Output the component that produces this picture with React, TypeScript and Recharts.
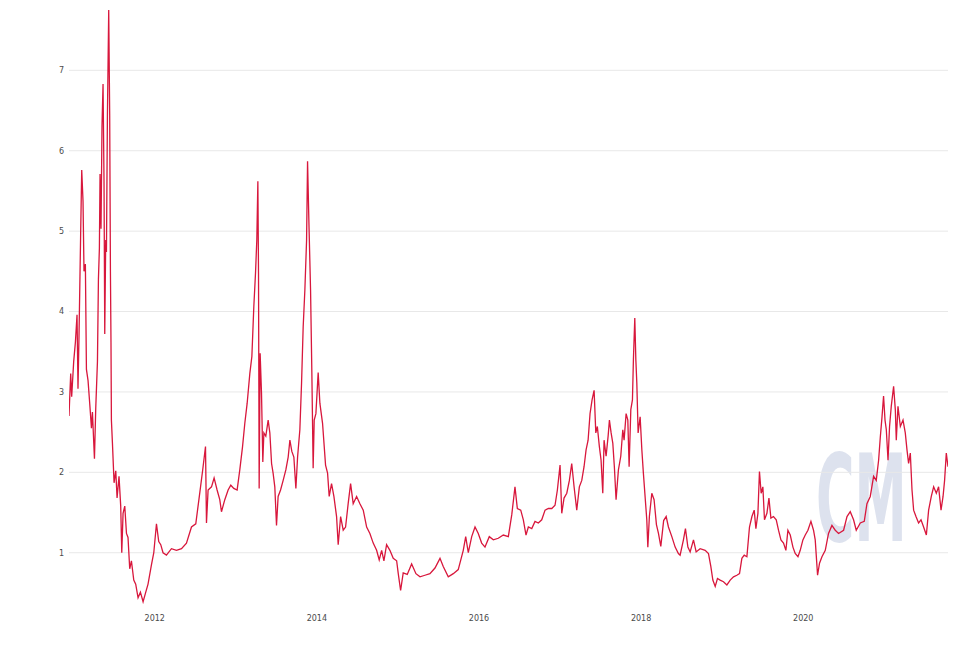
import { LineChart, Line, XAxis, YAxis, CartesianGrid } from "recharts";

// [decimal year, MVRV ratio]
const span2011: [number, number][] = [
  [2010.942, 2.7], [2010.963, 3.23], [2010.975, 2.94], [2011.0, 3.38], [2011.021, 3.62],
  [2011.041, 3.96], [2011.053, 3.04], [2011.065, 3.67], [2011.086, 4.98], [2011.099, 5.76],
  [2011.115, 5.37], [2011.127, 4.5], [2011.144, 4.59], [2011.157, 3.28], [2011.177, 3.14],
  [2011.198, 2.85], [2011.219, 2.55], [2011.231, 2.75], [2011.256, 2.17], [2011.272, 2.8],
  [2011.293, 3.38], [2011.305, 4.4], [2011.317, 4.79], [2011.325, 5.71], [2011.337, 5.03],
  [2011.349, 6.3], [2011.362, 6.83], [2011.374, 5.62], [2011.383, 3.72], [2011.395, 4.89],
  [2011.404, 4.74], [2011.416, 6.44], [2011.432, 7.75], [2011.444, 6.44], [2011.453, 4.5],
  [2011.46, 3.62], [2011.465, 2.65], [2011.478, 2.36], [2011.498, 1.87], [2011.519, 2.02],
  [2011.535, 1.68], [2011.559, 1.95], [2011.58, 1.58], [2011.593, 1.0], [2011.609, 1.49],
  [2011.63, 1.58], [2011.651, 1.24], [2011.67, 1.19], [2011.691, 0.8], [2011.712, 0.9],
  [2011.741, 0.66], [2011.765, 0.61], [2011.794, 0.44], [2011.823, 0.51], [2011.856, 0.39],
  [2011.889, 0.51], [2011.917, 0.61], [2011.959, 0.85], [2011.988, 1.0],
];

const span2012: [number, number][] = [
  [2012.021, 1.36], [2012.049, 1.14], [2012.074, 1.1], [2012.102, 1.0], [2012.144, 0.97],
  [2012.206, 1.05], [2012.268, 1.03], [2012.33, 1.05], [2012.391, 1.12], [2012.453, 1.32],
  [2012.506, 1.36], [2012.547, 1.68], [2012.589, 2.01], [2012.626, 2.32], [2012.638, 1.37],
  [2012.658, 1.78], [2012.7, 1.82], [2012.732, 1.93], [2012.769, 1.78], [2012.802, 1.66],
  [2012.823, 1.51], [2012.864, 1.66], [2012.905, 1.78], [2012.938, 1.84], [2012.975, 1.8],
];

const span2013: [number, number][] = [
  [2013.016, 1.78], [2013.049, 2.03], [2013.083, 2.32], [2013.111, 2.61], [2013.14, 2.86],
  [2013.173, 3.23], [2013.198, 3.44], [2013.222, 4.06], [2013.243, 4.48], [2013.259, 4.89],
  [2013.272, 5.62], [2013.28, 4.48], [2013.288, 1.8], [2013.3, 3.48], [2013.317, 2.98],
  [2013.333, 2.13], [2013.346, 2.49], [2013.37, 2.45], [2013.399, 2.65], [2013.42, 2.49],
  [2013.441, 2.11], [2013.46, 1.99], [2013.481, 1.82], [2013.502, 1.34], [2013.522, 1.7],
  [2013.552, 1.78], [2013.584, 1.9], [2013.617, 2.03], [2013.646, 2.19], [2013.667, 2.4],
  [2013.691, 2.26], [2013.716, 2.19], [2013.741, 1.8], [2013.762, 2.19], [2013.79, 2.53],
  [2013.811, 3.11], [2013.831, 3.81], [2013.852, 4.27], [2013.873, 4.89], [2013.885, 5.87],
  [2013.901, 5.14], [2013.922, 4.27], [2013.938, 3.24], [2013.954, 2.05], [2013.967, 2.65],
  [2013.988, 2.73],
];

const span2014: [number, number][] = [
  [2014.016, 3.24], [2014.037, 2.86], [2014.07, 2.61], [2014.107, 2.09], [2014.132, 1.99],
  [2014.152, 1.7], [2014.181, 1.86], [2014.21, 1.7], [2014.243, 1.45], [2014.263, 1.1],
  [2014.293, 1.45], [2014.325, 1.28], [2014.354, 1.32], [2014.386, 1.61], [2014.416, 1.86],
  [2014.448, 1.61], [2014.49, 1.7], [2014.531, 1.61], [2014.572, 1.53], [2014.614, 1.32],
  [2014.654, 1.24], [2014.695, 1.12], [2014.737, 1.03], [2014.769, 0.91], [2014.799, 1.03],
  [2014.827, 0.9], [2014.86, 1.1], [2014.901, 1.03], [2014.942, 0.93], [2014.984, 0.9],
];

const span2015: [number, number][] = [
  [2015.004, 0.74], [2015.033, 0.53], [2015.065, 0.75], [2015.115, 0.73], [2015.169, 0.86],
  [2015.222, 0.74], [2015.272, 0.7], [2015.333, 0.72], [2015.395, 0.74], [2015.457, 0.81],
  [2015.519, 0.93], [2015.559, 0.83], [2015.621, 0.7], [2015.683, 0.74], [2015.744, 0.79],
  [2015.806, 1.03], [2015.836, 1.2], [2015.868, 1.0], [2015.91, 1.2], [2015.951, 1.32],
  [2015.991, 1.24],
];

const span2016: [number, number][] = [
  [2016.033, 1.12], [2016.074, 1.07], [2016.127, 1.2], [2016.177, 1.16], [2016.238, 1.18],
  [2016.3, 1.22], [2016.362, 1.2], [2016.404, 1.47], [2016.444, 1.82], [2016.473, 1.55],
  [2016.515, 1.53], [2016.547, 1.41], [2016.58, 1.22], [2016.609, 1.32], [2016.651, 1.3],
  [2016.691, 1.39], [2016.732, 1.37], [2016.774, 1.41], [2016.815, 1.53], [2016.856, 1.55],
  [2016.898, 1.55], [2016.938, 1.59], [2016.967, 1.78],
];

const span2017: [number, number][] = [
  [2017.0, 2.09], [2017.021, 1.49], [2017.049, 1.68], [2017.083, 1.74], [2017.115, 1.9],
  [2017.144, 2.11], [2017.173, 1.82], [2017.206, 1.53], [2017.238, 1.82], [2017.268, 1.9],
  [2017.296, 2.07], [2017.321, 2.28], [2017.346, 2.4], [2017.37, 2.73], [2017.395, 2.9],
  [2017.42, 3.02], [2017.441, 2.49], [2017.46, 2.57], [2017.485, 2.32], [2017.506, 2.15],
  [2017.527, 1.74], [2017.543, 2.4], [2017.568, 2.2], [2017.593, 2.45], [2017.609, 2.65],
  [2017.63, 2.49], [2017.651, 2.36], [2017.67, 2.07], [2017.691, 1.66], [2017.72, 2.03],
  [2017.749, 2.2], [2017.774, 2.53], [2017.79, 2.4], [2017.815, 2.73], [2017.836, 2.65],
  [2017.852, 2.07], [2017.873, 2.78], [2017.893, 2.9], [2017.905, 3.4], [2017.922, 3.92],
  [2017.935, 3.4], [2017.947, 3.11], [2017.963, 2.49], [2017.988, 2.69],
];

const span2018: [number, number][] = [
  [2018.009, 2.28], [2018.028, 1.99], [2018.049, 1.7], [2018.07, 1.41], [2018.083, 1.07],
  [2018.102, 1.45], [2018.132, 1.74], [2018.16, 1.66], [2018.189, 1.35], [2018.214, 1.24],
  [2018.243, 1.08], [2018.278, 1.4], [2018.309, 1.45], [2018.337, 1.32], [2018.379, 1.2],
  [2018.42, 1.07], [2018.46, 0.99], [2018.481, 0.97], [2018.522, 1.16], [2018.547, 1.3],
  [2018.577, 1.07], [2018.605, 1.01], [2018.646, 1.16], [2018.679, 1.01], [2018.728, 1.05],
  [2018.79, 1.03], [2018.831, 0.99], [2018.86, 0.83], [2018.885, 0.66], [2018.914, 0.58],
  [2018.942, 0.68], [2018.975, 0.66],
];

const span2019: [number, number][] = [
  [2019.016, 0.64], [2019.058, 0.6], [2019.099, 0.66], [2019.14, 0.7], [2019.181, 0.72],
  [2019.214, 0.74], [2019.243, 0.93], [2019.272, 0.97], [2019.305, 0.95], [2019.337, 1.32],
  [2019.367, 1.45], [2019.395, 1.53], [2019.416, 1.3], [2019.441, 1.49], [2019.46, 2.01],
  [2019.481, 1.74], [2019.502, 1.82], [2019.522, 1.41], [2019.552, 1.49], [2019.577, 1.68],
  [2019.601, 1.43], [2019.633, 1.45], [2019.667, 1.41], [2019.695, 1.28], [2019.725, 1.16],
  [2019.757, 1.12], [2019.786, 1.03], [2019.811, 1.28], [2019.84, 1.22], [2019.873, 1.07],
  [2019.901, 0.99], [2019.935, 0.95], [2019.963, 1.03], [2019.996, 1.16],
];

const span2020: [number, number][] = [
  [2020.025, 1.22], [2020.058, 1.28], [2020.095, 1.39], [2020.127, 1.28], [2020.148, 1.16],
  [2020.177, 0.72], [2020.201, 0.87], [2020.231, 0.95], [2020.272, 1.03], [2020.312, 1.24],
  [2020.354, 1.34], [2020.395, 1.28], [2020.436, 1.24], [2020.498, 1.28], [2020.54, 1.45],
  [2020.58, 1.51], [2020.621, 1.41], [2020.654, 1.28], [2020.704, 1.37], [2020.753, 1.39],
  [2020.786, 1.61], [2020.827, 1.7], [2020.868, 1.95], [2020.901, 1.9], [2020.93, 2.15],
  [2020.951, 2.44], [2020.972, 2.69], [2020.991, 2.95],
];

const span2021: [number, number][] = [
  [2021.009, 2.65], [2021.025, 2.53], [2021.046, 2.15], [2021.065, 2.57], [2021.086, 2.82],
  [2021.115, 3.07], [2021.136, 2.78], [2021.148, 2.4], [2021.169, 2.82], [2021.198, 2.57],
  [2021.231, 2.65], [2021.259, 2.49], [2021.28, 2.28], [2021.3, 2.11], [2021.321, 2.24],
  [2021.342, 1.78], [2021.362, 1.53], [2021.391, 1.45], [2021.423, 1.37], [2021.453, 1.41],
  [2021.485, 1.32], [2021.519, 1.22], [2021.547, 1.53], [2021.58, 1.7], [2021.609, 1.82],
  [2021.642, 1.74], [2021.67, 1.82], [2021.7, 1.53], [2021.725, 1.7], [2021.744, 1.9],
  [2021.765, 2.24], [2021.786, 2.07],
];

const yearTicks = [2012, 2014, 2016, 2018, 2020];
const ratioTicks = [1, 2, 3, 4, 5, 6, 7];

const points = [
  ...span2011, ...span2012, ...span2013, ...span2014, ...span2015,
  ...span2016, ...span2017, ...span2018, ...span2019, ...span2020, ...span2021,
].map(([year, ratio]) => ({ year, ratio }));

const tickStyle = { fontSize: 8, fill: "#4a4a4a", fontFamily: "DejaVu Sans" };

export default function App() {
  return (
    <div style={{ position: "absolute", left: 0, top: 0, width: 973, height: 653, background: "#fff" }}>
      {/* CM watermark, sits behind the line */}
      <svg width={973} height={653} style={{ position: "absolute", left: 0, top: 0 }}>
        <text
          transform="translate(816 541) scale(0.43 1)"
          fontSize={122}
          fontWeight="bold"
          fontFamily="DejaVu Sans"
          fill="#dde2ee"
        >
          CM
        </text>
      </svg>
      <div style={{ position: "absolute", left: 0, top: 0 }}>
        <LineChart
          width={973}
          height={653}
          data={points}
          margin={{ top: 6, right: 25, bottom: 18, left: 39 }}
        >
          <CartesianGrid vertical={false} stroke="#e8e8e8" syncWithTicks />
          <XAxis
            dataKey="year"
            type="number"
            domain={[2010.942, 2021.786]}
            ticks={yearTicks}
            tickFormatter={(v) => String(v)}
            axisLine={false}
            tickLine={false}
            tickSize={0}
            tickMargin={10}
            height={30}
            tick={tickStyle}
            allowDataOverflow
          />
          <YAxis
            type="number"
            domain={[0.35, 7.8]}
            ticks={ratioTicks}
            axisLine={false}
            tickLine={false}
            tickSize={0}
            tickMargin={5}
            width={30}
            tick={tickStyle}
            allowDataOverflow
          />
          <Line
            type="linear"
            dataKey="ratio"
            stroke="#d8173c"
            strokeWidth={1.3}
            dot={false}
            isAnimationActive={false}
          />
        </LineChart>
      </div>
    </div>
  );
}
